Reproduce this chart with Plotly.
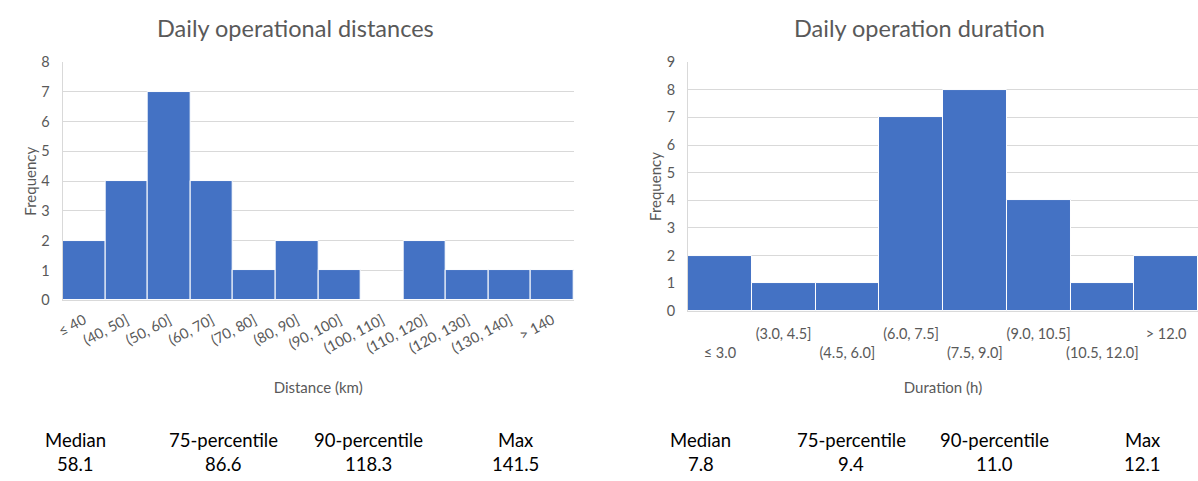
import plotly.graph_objects as go

# ---- data ----
dist_bins = ["≤ 40", "(40, 50]", "(50, 60]", "(60, 70]", "(70, 80]", "(80, 90]", "(90, 100]",
             "(100, 110]", "(110, 120]", "(120, 130]", "(130, 140]", "> 140"]
dist_freq = [2, 4, 7, 4, 1, 2, 1, 0, 2, 1, 1, 1]

dur_bins = ["≤ 3.0", "(3.0, 4.5]", "(4.5, 6.0]", "(6.0, 7.5]", "(7.5, 9.0]", "(9.0, 10.5]",
            "(10.5, 12.0]", "> 12.0"]
dur_freq = [2, 1, 1, 7, 8, 4, 1, 2]

stat_names = ["Median", "75-percentile", "90-percentile", "Max"]
dist_stats = ["58.1", "86.6", "118.3", "141.5"]
dur_stats = ["7.8", "9.4", "11.0", "12.1"]

W, H = 1198, 481
FONT = "Lato, 'Open Sans', sans-serif"
GREY = "#595959"
BLUE = "#4472C4"
GRID = "#d9d9d9"

def px(x):
    return x / W

def py(y):
    return 1 - y / H

fig = go.Figure()
fig.add_trace(go.Bar(x=dist_bins, y=dist_freq, marker=dict(color=BLUE, line=dict(color="white", width=1)),
                     xaxis="x", yaxis="y", showlegend=False, hoverinfo="x+y"))
fig.add_trace(go.Bar(x=dur_bins, y=dur_freq, marker=dict(color=BLUE, line=dict(color="white", width=1)),
                     xaxis="x2", yaxis="y2", showlegend=False, hoverinfo="x+y"))

# staggered tick labels for right chart
dur_ticktext = [(" <br>" + b) if i % 2 == 0 else b for i, b in enumerate(dur_bins)]

TICKF = dict(family=FONT, size=14.5, color=GREY)
TITLEF = dict(family=FONT, size=15, color=GREY)

fig.update_layout(
    width=W, height=H, autosize=False,
    margin=dict(l=0, r=0, t=0, b=0),
    paper_bgcolor="white", plot_bgcolor="white",
    bargap=0,
    font=dict(family=FONT, color=GREY),
    xaxis=dict(domain=[px(56), px(570)], anchor="y", tickangle=-28,
               showgrid=False, ticks="", tickfont=TICKF, ticklabelstandoff=5,
               showline=True, linecolor=GRID, linewidth=1,
               title=dict(text="Distance (km)", font=TITLEF, standoff=27)),
    yaxis=dict(domain=[py(302), py(55)], anchor="x", range=[0, 8], dtick=1,
               showgrid=True, gridcolor=GRID, gridwidth=1, zeroline=False,
               showline=True, linecolor=GRID, ticks="", tickfont=TICKF, ticklabelstandoff=9,
               title=dict(text="Frequency", font=TITLEF, standoff=1)),
    xaxis2=dict(domain=[px(685), 1.0], anchor="y2", tickangle=0,
                tickmode="array", tickvals=dur_bins, ticktext=dur_ticktext,
                showgrid=False, ticks="", tickfont=TICKF, ticklabelstandoff=10,
                showline=True, linecolor=GRID, linewidth=1,
                title=dict(text="Duration (h)", font=TITLEF, standoff=22)),
    yaxis2=dict(domain=[py(313), py(55)], anchor="x2", range=[0, 9], dtick=1,
                showgrid=True, gridcolor=GRID, gridwidth=1, zeroline=False,
                showline=True, linecolor=GRID, ticks="", tickfont=TICKF, ticklabelstandoff=9,
                title=dict(text="Frequency", font=TITLEF, standoff=1)),
)

annotations = [
    dict(text="Daily operational distances", x=px(290), y=py(20), xref="paper", yref="paper",
         showarrow=False, font=dict(family=FONT, size=23.5, color=GREY), xanchor="center", yanchor="middle"),
    dict(text="Daily operation duration", x=px(918), y=py(20), xref="paper", yref="paper",
         showarrow=False, font=dict(family=FONT, size=23.5, color=GREY), xanchor="center", yanchor="middle"),
]
left_x = [69, 218, 364, 511]
right_x = [698, 849, 993, 1142]
for i, name in enumerate(stat_names):
    for xs, vals in ((left_x, dist_stats), (right_x, dur_stats)):
        annotations.append(dict(text=name, x=px(xs[i]), y=py(447), xref="paper", yref="paper",
                                showarrow=False, font=dict(family=FONT, size=18.5, color="black"),
                                xanchor="center", yanchor="middle"))
        annotations.append(dict(text=vals[i], x=px(xs[i]), y=py(472), xref="paper", yref="paper",
                                showarrow=False, font=dict(family=FONT, size=18.5, color="black"),
                                xanchor="center", yanchor="middle"))
fig.update_layout(annotations=annotations)

fig.write_html("out.html", config={"displayModeBar": False},
               post_script="document.body.style.margin='0';document.documentElement.style.overflow='hidden';")
